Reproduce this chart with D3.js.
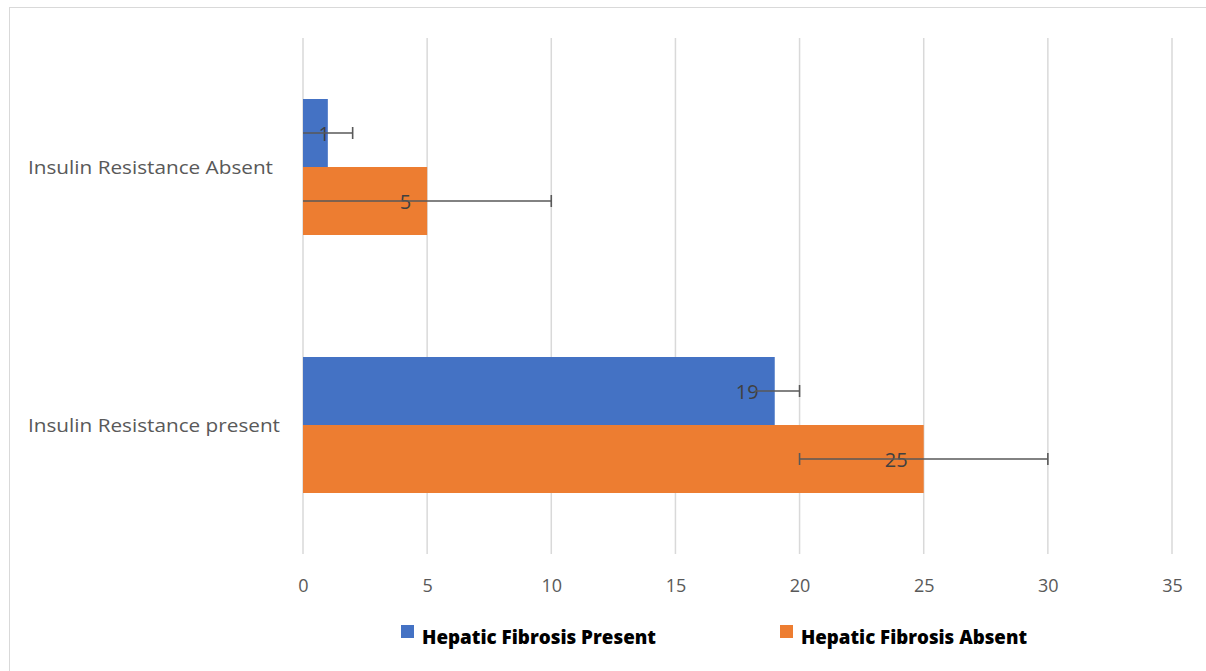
<!DOCTYPE html>
<html><head><meta charset="utf-8">
<script src="https://cdn.jsdelivr.net/npm/d3@7"></script>
<style>body{margin:0;background:#fff}svg{display:block}</style>
</head><body>
<svg id="c" width="1206" height="671"></svg>
<script>
const categories = ["Insulin Resistance Absent", "Insulin Resistance present"];
const seriesNames = ["Hepatic Fibrosis Present", "Hepatic Fibrosis Absent"];
const seriesColors = ["#4472C4", "#ED7D31"];
const presentValues = [1, 19];
const absentValues = [5, 25];
const presentErrLow = [0, 18.2];
const presentErrHigh = [2, 20];
const absentErrLow = [0, 20];
const absentErrHigh = [10, 30];
const presentLowCap = [false, false];
const absentLowCap = [false, true];
const xTicks = [0, 5, 10, 15, 20, 25, 30, 35];

const svg = d3.select("#c");
const font = "Lato, 'Open Sans', sans-serif";
const font2 = "'Open Sans', Lato, sans-serif";

svg.append("rect").attr("x", 9.5).attr("y", 7.5).attr("width", 1300).attr("height", 700)
  .attr("fill", "none").attr("stroke", "#d9d9d9").attr("stroke-width", 1);

const x = d3.scaleLinear().domain([0, 35]).range([303, 1172]);
const y = d3.scaleBand().domain(categories).range([38, 554]);
const inner = d3.scaleBand().domain(seriesNames).range([0, 136]);
const barOff = (y.bandwidth() - 136) / 2;

// gridlines
svg.append("g").selectAll("line").data(xTicks).join("line")
  .attr("x1", d => x(d)).attr("x2", d => x(d))
  .attr("y1", 38).attr("y2", 554)
  .attr("stroke", "#d9d9d9").attr("stroke-width", 1.5);

// tick labels
const xAxis = d3.axisBottom(x).tickValues(xTicks).tickSize(0).tickPadding(0);
const ax = svg.append("g").attr("transform", "translate(0,578)").call(xAxis);
ax.select(".domain").remove();
ax.selectAll("text").attr("font-family", font2).attr("font-size", 18).attr("fill", "#595959").attr("dy", "0.35em").attr("y", 8);

// category labels
const catW = [245, 252];
svg.append("g").selectAll("text").data(categories).join("text")
  .attr("x", 28).attr("y", d => y(d) + y.bandwidth() / 2).attr("dy", "0.35em")
  .attr("font-family", font2).attr("font-size", 19).attr("fill", "#595959")
  .attr("textLength", (d, i) => catW[i]).attr("lengthAdjust", "spacingAndGlyphs").text(d => d);

const rows = [];
categories.forEach((c, i) => {
  rows.push({cat: c, s: 0, v: presentValues[i], lo: presentErrLow[i], hi: presentErrHigh[i], cap: presentLowCap[i]});
  rows.push({cat: c, s: 1, v: absentValues[i], lo: absentErrLow[i], hi: absentErrHigh[i], cap: absentLowCap[i]});
});
const by = d => y(d.cat) + barOff + inner(seriesNames[d.s]);

svg.append("g").selectAll("rect").data(rows).join("rect")
  .attr("x", x(0)).attr("y", by).attr("width", d => x(d.v) - x(0)).attr("height", inner.bandwidth())
  .attr("fill", d => seriesColors[d.s]);

// labels
svg.append("g").selectAll("text").data(rows).join("text")
  .attr("x", d => Math.max(x(d.v) - 16, x(0) + 27)).attr("y", d => by(d) + inner.bandwidth() / 2).attr("dy", "0.38em")
  .attr("text-anchor", "end").attr("font-family", font2).attr("font-size", 20).attr("fill", "#404040")
  .text(d => d.v);

// error bars
const eg = svg.append("g").attr("stroke", "#595959").attr("stroke-width", 1.6);
rows.forEach(d => {
  const cy = by(d) + inner.bandwidth() / 2;
  eg.append("line").attr("x1", x(d.lo)).attr("x2", x(d.hi)).attr("y1", cy).attr("y2", cy);
  eg.append("line").attr("x1", x(d.hi)).attr("x2", x(d.hi)).attr("y1", cy - 6).attr("y2", cy + 6);
  if (d.cap) eg.append("line").attr("x1", x(d.lo)).attr("x2", x(d.lo)).attr("y1", cy - 6).attr("y2", cy + 6);
});

// legend
const legX = [401, 780];
const legW = [234, 226];
const lg = svg.append("g").selectAll("g").data(seriesNames).join("g")
  .attr("transform", (d, i) => `translate(${legX[i]},625)`);
lg.append("rect").attr("width", 13).attr("height", 13).attr("fill", (d, i) => seriesColors[i]);
lg.append("text").attr("x", 21).attr("y", 19).attr("font-family", font2).attr("font-weight", 800)
  .attr("font-size", 20).attr("fill", "#000")
  .attr("textLength", (d, i) => legW[i]).attr("lengthAdjust", "spacingAndGlyphs").text(d => d);
</script>
</body></html>
